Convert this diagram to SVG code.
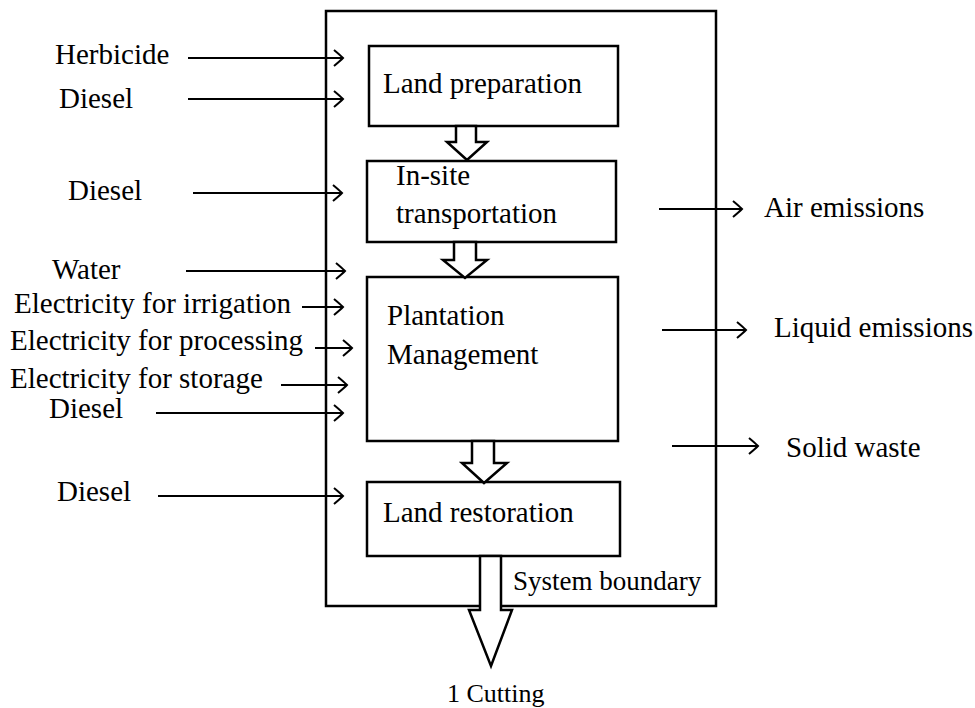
<svg xmlns="http://www.w3.org/2000/svg" width="975" height="708" viewBox="0 0 975 708">
<style>
text{font-family:"Liberation Serif","Times New Roman",serif;font-size:29px;fill:#000}
.box{fill:#fff;stroke:#000;stroke-width:2.5}
.ln{fill:none;stroke:#000;stroke-width:2.2}
.blk{fill:#fff;stroke:#000;stroke-width:2.5;stroke-linejoin:miter}
.sm{font-size:27px}
</style>
<defs>
<marker id="ah" markerUnits="userSpaceOnUse" markerWidth="14" markerHeight="20" viewBox="-11 -10 13 20" refX="0" refY="0" orient="auto">
<path d="M-9,-8 Q-3,-3 0,0 Q-3,3 -9,8" fill="none" stroke="#000" stroke-width="2"/>
</marker>
</defs>
<rect id="system-boundary" x="326" y="11" width="390" height="595" fill="none" stroke="#000" stroke-width="2.5"/>
<g id="land-preparation"><rect class="box" x="369" y="46" width="249" height="80"/><text x="383" y="93">Land preparation</text></g>
<g id="in-site-transportation"><rect class="box" x="367" y="161" width="249" height="81"/><text x="396" y="185">In-site</text><text x="396" y="223">transportation</text></g>
<g id="plantation-management"><rect class="box" x="367" y="277" width="251" height="164"/><text x="387" y="325">Plantation</text><text x="387" y="364">Management</text></g>
<g id="land-restoration"><rect class="box" x="367" y="482" width="253" height="74"/><text x="383" y="522">Land restoration</text></g>
<g id="connectors">
<path class="blk" d="M456,126 L476,126 L476,142 L487,142 L467,160 L447,142 L456,142 Z"/>
<path class="blk" d="M454,242 L476,242 L476,260 L487,260 L465,278 L443,260 L454,260 Z"/>
<path class="blk" d="M472,441 L494,441 L494,463 L507,463 L484,483 L462,463 L472,463 Z"/>
<path class="blk" d="M480,556 L501,556 L501,610 L512,610 L491,666 L469,610 L480,610 Z"/>
<g marker-end="url(#ah)">
<line class="ln" x1="188" y1="58" x2="343" y2="58"/>
<line class="ln" x1="188" y1="99" x2="343" y2="99"/>
<line class="ln" x1="193" y1="193" x2="342" y2="193"/>
<line class="ln" x1="186" y1="271" x2="345" y2="271"/>
<line class="ln" x1="302" y1="307" x2="343" y2="307"/>
<line class="ln" x1="315" y1="348" x2="352" y2="348"/>
<line class="ln" x1="281" y1="385" x2="347" y2="385"/>
<line class="ln" x1="156" y1="413" x2="343" y2="413"/>
<line class="ln" x1="158" y1="496" x2="343" y2="496"/>
<line class="ln" x1="659" y1="209" x2="742" y2="209"/>
<line class="ln" x1="662" y1="330" x2="746" y2="330"/>
<line class="ln" x1="672" y1="446" x2="758" y2="446"/>
</g>
</g>
<g id="labels">
<text x="55" y="64">Herbicide</text>
<text x="59" y="108">Diesel</text>
<text x="68" y="200">Diesel</text>
<text x="52" y="279">Water</text>
<text x="14" y="313">Electricity for irrigation</text>
<text x="10" y="350">Electricity for processing</text>
<text x="10" y="388">Electricity for storage</text>
<text x="49" y="418">Diesel</text>
<text x="57" y="501">Diesel</text>
<text x="764" y="217">Air emissions</text>
<text x="774" y="337">Liquid emissions</text>
<text x="786" y="457">Solid waste</text>
<text class="sm" x="513" y="590">System boundary</text>
<text style="font-size:26px" x="447" y="702">1 Cutting</text>
</g>
</svg>
